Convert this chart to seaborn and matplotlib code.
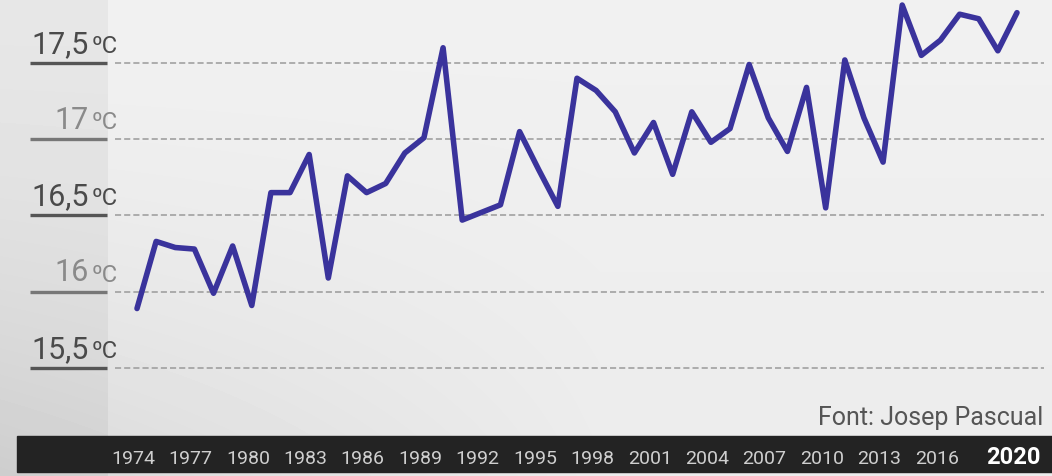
import numpy as np
import matplotlib
matplotlib.use("Agg")
import matplotlib.pyplot as plt
import matplotlib.transforms as mtransforms
from matplotlib.patches import Rectangle
import seaborn as sns

# Datos: temperatura media anual (ºC), 1974-2020
anys = list(range(1974, 2021))
temperatura = [
    15.89, 16.33, 16.29, 16.28, 15.99, 16.30, 15.91, 16.65, 16.65, 16.90,
    16.09, 16.76, 16.65, 16.71, 16.91, 17.01, 17.60, 16.47, 16.52, 16.57,
    17.05, 16.80, 16.56, 17.40, 17.32, 17.18, 16.91, 17.11, 16.77, 17.18,
    16.98, 17.07, 17.49, 17.14, 16.92, 17.34, 16.55, 17.52, 17.14, 16.85,
    17.88, 17.55, 17.65, 17.82, 17.79, 17.58, 17.83,
]
valors_y = [15.5, 16.0, 16.5, 17.0, 17.5]
etiquetes_y = ["15,5", "16", "16,5", "17", "17,5"]
anys_etiqueta = list(range(1974, 2017, 3))

sns.set_style("white")
plt.rcParams["font.family"] = ["Roboto", "DejaVu Sans"]

W, H = 1052, 477
fig = plt.figure(figsize=(W / 100, H / 100), dpi=100)

# Fons tipus fotografia grisa
ax_bg = fig.add_axes([0, 0, 1, 1])
yy, xx = np.mgrid[0:H, 0:W]
fons = 0.925 + 0.02 * (1 - yy / H) - 0.08 * np.clip(1 - xx / 600, 0, 1) * (yy / H) ** 2
fons[:, :108] -= 0.04
fons = np.clip(fons, 0, 1)
ax_bg.imshow(fons, cmap="gray", vmin=0, vmax=1, aspect="auto", extent=[0, W, H, 0])
# Barra inferior fosca
ax_bg.add_patch(Rectangle((17, 437), W - 17, 36, color="#232323"))
ax_bg.set_xlim(0, W)
ax_bg.set_ylim(H, 0)
ax_bg.set_axis_off()

# Eix principal (píxels: x 110..1052, y 0..437)
x0, x1 = 110, 1052
y_top, y_bot = 0, 437
ax = fig.add_axes([x0 / W, (H - y_bot) / H, (x1 - x0) / W, (y_bot - y_top) / H])
ax.patch.set_alpha(0)
px_any = 19.13
px_grau = 152.5
ax.set_xlim(1974 - (137 - x0) / px_any, 1974 + (x1 - 137) / px_any)
ax.set_ylim(17.5 - (y_bot - 64) / px_grau, 17.5 + 64 / px_grau)
ax.set_axis_off()

for v in valors_y:
    ax.axhline(v, xmin=0.005, xmax=0.992, color="#9a9a9a", lw=1.1,
               ls=(0, (4, 2)), zorder=1)

sns.lineplot(x=anys, y=temperatura, ax=ax, color="#3a339c", linewidth=4.0,
             zorder=3)

# Etiquetes de l'eix Y
tr_y = mtransforms.blended_transform_factory(fig.transFigure, ax.transData)
for v, et in zip(valors_y, etiquetes_y):
    fosc = et in ("15,5", "16,5", "17,5")
    col = "#4a4a4a" if fosc else "#8a8a8a"
    ax.plot([30 / W, 107 / W], [v, v], transform=tr_y, color="#555555" if fosc else "#777777",
            lw=2.4, clip_on=False, solid_capstyle="butt")
    ax.text(89 / W, v + 0.035, et, transform=tr_y, ha="right", va="bottom",
            fontsize=22, color=col)
    ax.text(92 / W, v + 0.04, "ºC", transform=tr_y, ha="left", va="bottom",
            fontsize=17, color=col)

# Font
fig.text(1043 / W, (H - 430) / H, "Font: Josep Pascual", ha="right", va="bottom",
         fontsize=18, color="#555555")

# Anys a la barra inferior
tr_x = mtransforms.blended_transform_factory(ax.transData, fig.transFigure)
for a in anys_etiqueta:
    ax.text(a - 0.2, (H - 459) / H, str(a), transform=tr_x, ha="center", va="center",
            fontsize=14, color="#cfcfcf", clip_on=False, zorder=6)
ax.text(2020 - 0.2, (H - 458) / H, "2020", transform=tr_x, ha="center", va="center",
        fontsize=17, fontweight="bold", color="white", clip_on=False, zorder=6)

fig.savefig("out.png", dpi=100)
